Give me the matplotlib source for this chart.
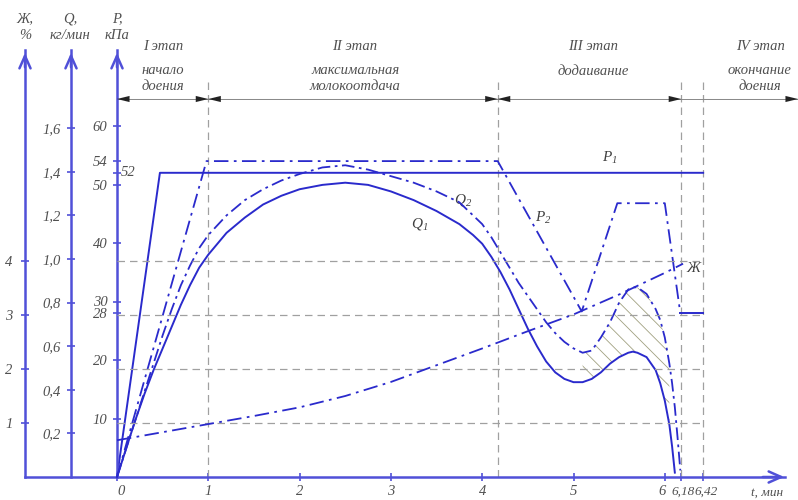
import numpy as np
import matplotlib.pyplot as plt
from matplotlib.transforms import ScaledTranslation

plt.rcParams['font.family'] = ['Liberation Serif', 'DejaVu Serif']
plt.rcParams['font.style'] = 'italic'
plt.rcParams['mathtext.fontset'] = 'custom'
plt.rcParams['mathtext.it'] = 'Liberation Serif:italic'
plt.rcParams['mathtext.rm'] = 'Liberation Serif:italic'
plt.rcParams['hatch.linewidth'] = 0.6

# ---- data ----
t_q = [0, 0.1, 0.2, 0.3, 0.4, 0.5, 0.6, 0.7, 0.8, 0.9, 1.0, 1.2, 1.4, 1.6, 1.8,
       2.0, 2.25, 2.5, 2.75, 3.0, 3.25, 3.5, 3.75, 3.9, 4.0, 4.1, 4.2, 4.3, 4.4,
       4.5, 4.6, 4.7, 4.8, 4.9, 5.0, 5.1, 5.2, 5.3, 5.4, 5.5, 5.6, 5.65, 5.7,
       5.8, 5.9, 5.95, 6.0, 6.05, 6.08, 6.11, 6.14, 6.17]
q1 = [0, 0.13, 0.26, 0.38, 0.49, 0.59, 0.69, 0.79, 0.88, 0.96, 1.02, 1.12, 1.19,
      1.25, 1.29, 1.32, 1.34, 1.35, 1.34, 1.31, 1.27, 1.22, 1.16, 1.11, 1.07,
      1.01, 0.94, 0.86, 0.77, 0.68, 0.60, 0.53, 0.48, 0.45, 0.435, 0.435, 0.45,
      0.48, 0.52, 0.55, 0.57, 0.575, 0.57, 0.55, 0.49, 0.43, 0.35, 0.24, 0.14,
      0.02, np.nan, np.nan]
q2 = [0, 0.13, 0.26, 0.39, 0.52, 0.65, 0.77, 0.88, 0.97, 1.05, 1.11, 1.20, 1.27,
      1.32, 1.36, 1.39, 1.42, 1.43, 1.41, 1.38, 1.35, 1.31, 1.26, 1.20, 1.16,
      1.10, 1.03, 0.96, 0.89, 0.83, 0.77, 0.71, 0.66, 0.62, 0.59, 0.57, 0.58,
      0.64, 0.71, 0.80, 0.86, 0.87, 0.87, 0.84, 0.77, 0.72, 0.64, 0.52, 0.43,
      0.32, 0.18, 0.03]

t_p1 = [0, 0.47, 6.42]
p1 = [0, 52, 52]
t_p2 = [0, 0.98, 4.17, 5.09, 5.48, 6.0, 6.17]
p2 = [0, 54, 54, 28.3, 46.8, 46.8, 28]
t_p2_end = [6.17, 6.42]
p2_end = [28, 28]

t_zh = [0, 0.5, 1.0, 1.5, 2.0, 2.5, 3.0, 3.5, 4.0, 4.5, 5.0, 5.5, 6.0, 6.2]
zh = [0.68, 0.83, 0.98, 1.13, 1.29, 1.50, 1.76, 2.07, 2.38, 2.70, 3.01, 3.38,
      3.78, 3.95]

x_ticks = [0, 1, 2, 3, 4, 5, 6, 6.18, 6.42]
x_labels = ['0', '1', '2', '3', '4', '5', '6', '6,18', '6,42']
p_ticks = [10, 20, 28, 30, 40, 50, 52, 54, 60]
p_labels = ['10', '20', '28', '30', '40', '50', '', '54', '60']
q_ticks = [0.2, 0.4, 0.6, 0.8, 1.0, 1.2, 1.4, 1.6]
q_labels = ['0,2', '0,4', '0,6', '0,8', '1,0', '1,2', '1,4', '1,6']
zh_ticks = [1, 2, 3, 4]
stage_bounds = [0, 1, 4.17, 6.18, 6.42]
stage_titles = ['I этап', 'II этап', 'III этап', 'IV этап']
stage_texts = ['начало\nдоения', 'максимальная\nмолокоотдача', 'додаивание',
               'окончание\nдоения']

# ---- layout (pixels of the 798x500 picture) ----
W, H = 798, 500
X0, PX_T = 117, 91.3          # t = 0 and px per minute
Y0 = 477                      # zero line
PX_P, PX_Q, PX_ZH = 5.85, 218, 54

def tx(px):
    return (px - X0) / PX_T

def py(px):
    return (Y0 - px) / PX_P

AXC = '#5050d8'
LC = '#2a2acc'
GC = '#a0a0a0'
TC = '#505050'

fig = plt.figure(figsize=(W / 100, H / 100), dpi=100)
ax = fig.add_axes([0, 0, 1, 1])
ax.set_xlim(tx(0), tx(W))
ax.set_ylim(py(H), py(0))
axq = ax.twinx()
axq.set_ylim((Y0 - H) / PX_Q, Y0 / PX_Q)
axz = ax.twinx()
axz.set_ylim((Y0 - H) / PX_ZH, Y0 / PX_ZH)

top_px = 50
for a in (ax, axq, axz):
    for s in ('top', 'right', 'bottom', 'left'):
        a.spines[s].set_visible(False)

# P axis and t axis
ax.spines['left'].set_visible(True)
ax.spines['left'].set_position(('data', 0))
ax.spines['left'].set_bounds(0, py(top_px))
ax.spines['left'].set_color(AXC)
ax.spines['left'].set_linewidth(1.8)
ax.spines['bottom'].set_visible(True)
ax.spines['bottom'].set_position(('data', 0))
ax.spines['bottom'].set_bounds(tx(25), tx(785))
ax.spines['bottom'].set_color(AXC)
ax.spines['bottom'].set_linewidth(1.8)
ax.set_yticks(p_ticks, p_labels)
ax.set_xticks(x_ticks, x_labels)
ax.tick_params(axis='both', direction='inout', length=6, width=1.2, color=AXC,
               labelcolor=TC, labelsize=10.5, pad=3)
ax.tick_params(axis='y', pad=4)
# crowded labels at the end of the t axis
shifts = {'0': 4, '6': -3, '6,18': 2, '6,42': 3}
for lbl in ax.get_xticklabels():
    s = lbl.get_text()
    if s in shifts:
        lbl.set_transform(lbl.get_transform() +
                          ScaledTranslation(shifts[s] / 100, 0, fig.dpi_scale_trans))
    if s in ('6,18', '6,42'):
        lbl.set_fontsize(9.5)
ax.text(tx(121), 52, '52', color=TC, fontsize=10.5, ha='left', va='center')

# Q axis
axq.yaxis.set_ticks_position('left')
axq.spines['left'].set_visible(True)
axq.spines['left'].set_position(('data', tx(71)))
axq.spines['left'].set_bounds(0, (Y0 - top_px) / PX_Q)
axq.spines['left'].set_color(AXC)
axq.spines['left'].set_linewidth(1.8)
axq.set_yticks(q_ticks, q_labels)
axq.tick_params(axis='y', direction='inout', length=6, width=1.2, color=AXC,
                labelcolor=TC, labelsize=10.5, pad=4)

# Ж axis
axz.yaxis.set_ticks_position('left')
axz.spines['left'].set_visible(True)
axz.spines['left'].set_position(('data', tx(25)))
axz.spines['left'].set_bounds(0, (Y0 - top_px) / PX_ZH)
axz.spines['left'].set_color(AXC)
axz.spines['left'].set_linewidth(1.8)
axz.set_yticks(zh_ticks, [str(v) for v in zh_ticks])
axz.tick_params(axis='y', direction='inout', length=6, width=1.2, color=AXC,
                labelcolor=TC, labelsize=10.5, pad=6)

# arrow heads
arr = dict(arrowstyle='->,head_length=0.9,head_width=0.4', color=AXC, lw=1.8)
ax.annotate('', xy=(0, py(top_px)), xytext=(0, py(top_px + 20)), arrowprops=arr)
axq.annotate('', xy=(tx(71), (Y0 - top_px) / PX_Q),
             xytext=(tx(71), (Y0 - top_px - 20) / PX_Q), arrowprops=arr)
axz.annotate('', xy=(tx(25), (Y0 - top_px) / PX_ZH),
             xytext=(tx(25), (Y0 - top_px - 20) / PX_ZH), arrowprops=arr)
ax.annotate('', xy=(tx(787), 0), xytext=(tx(760), 0), arrowprops=arr)

# axis titles
for xp, s in ((25, 'Ж,\n%'), (70, 'Q,\nкг/мин'), (117, 'P,\nкПа')):
    ax.text(tx(xp), py(27), s, ha='center', va='center', fontsize=10.5,
            color=TC, linespacing=1.35)
ax.text(tx(767), py(493), 't, мин', ha='center', va='center', fontsize=9.5,
        color=TC)

# grid lines
axz.hlines(zh_ticks, 0, 6.42, colors=GC, linestyles=(0, (6, 4)), lw=0.9)
ax.vlines(stage_bounds[1:], 0, py(82), colors=GC, linestyles=(0, (6, 4)), lw=0.9)

# stages
ys = py(99)
ax.plot([0, tx(W)], [ys, ys], color='#888888', lw=0.7)
sarr = dict(arrowstyle='<|-|>,head_length=0.9,head_width=0.22', color='#222222',
            lw=0.01, shrinkA=0, shrinkB=0)
for a, b in zip(stage_bounds[:3], stage_bounds[1:4]):
    ax.annotate('', xy=(a, ys), xytext=(b, ys), arrowprops=sarr)
ax.annotate('', xy=(6.42, ys), xytext=(tx(W), ys),
            arrowprops=dict(arrowstyle='<|-,head_length=0.9,head_width=0.22',
                            color='#222222', lw=0.01, shrinkA=0, shrinkB=0))
centers = [tx(163), tx(355), tx(593), tx(760)]
for c, ttl, txt in zip(centers, stage_titles, stage_texts):
    ax.text(c, py(47), ttl, ha='center', va='center', fontsize=10.5, color=TC)
    nl = txt.count('\n')
    ax.text(c, py(79 if nl else 72), txt, ha='center', va='center',
            fontsize=10.5, color=TC, linespacing=1.3)

# curves
ax.plot(t_p1, p1, color=LC, lw=1.4)
ax.plot(t_p2, p2, color=LC, lw=1.3, ls=(0, (8, 3, 1.5, 3)))
ax.plot(t_p2_end, p2_end, color=LC, lw=1.4)
axq.plot(t_q, q1, color=LC, lw=1.4)
axq.plot(t_q, q2, color=LC, lw=1.3, ls=(0, (7, 2.5, 1.5, 2.5)))
axz.plot(t_zh, zh, color=LC, lw=1.3, ls=(0, (8, 3, 1.5, 3)))

tq = np.array(t_q)
mask = (tq >= 5.1) & (tq <= 6.05)
axq.fill_between(t_q, q1, q2, where=mask, facecolor='none', edgecolor='#a0a080',
                 hatch='\\\\', linewidth=0)

# curve labels
lab = dict(fontsize=11, color='#404040', ha='center', va='center')
ax.text(tx(610), py(158), '$P_1$', **lab)
ax.text(tx(543), py(218), '$P_2$', **lab)
ax.text(tx(463), py(200), '$Q_2$', **lab)
ax.text(tx(420), py(224), '$Q_1$', **lab)
ax.text(tx(693), py(268), 'Ж', **lab)

fig.savefig('out.png', dpi=100)
